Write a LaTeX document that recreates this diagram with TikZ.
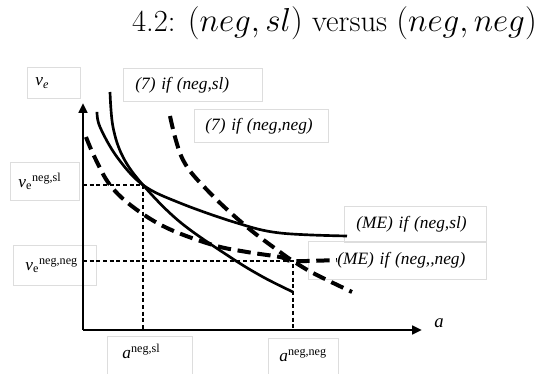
\documentclass[tikz,border=0pt]{standalone}
\usepackage{fontspec}
\usepackage{tikz}
\usetikzlibrary{arrows.meta}
\newfontfamily\lblfont{Liberation Serif}
\definecolor{ink}{HTML}{000000}
\definecolor{boxline}{HTML}{DDDDDD}

\tikzset{
  lblbox/.style={draw=boxline, line width=0.6pt, anchor=north west, align=left,
    inner ysep=0pt, font=\lblfont\fontsize{13}{15}\selectfont},
  curve/.style={ink, line width=2pt},
  dcurve/.style={ink, line width=3pt, dash pattern=on 10pt off 5pt},
  guide/.style={ink, line width=1.1pt, dash pattern=on 3pt off 2pt},
  axis/.style={ink, line width=2.2pt, -{Triangle[length=7.5pt,width=6.5pt]}}
}

\begin{document}
\begin{tikzpicture}[x=0.75pt, y=-0.75pt]
    \useasboundingbox (0,0) rectangle (554,374);
    \node[ink, anchor=base, font=\fontsize{23}{28}\selectfont] (ttl) at (334.5,32)
      {4.2: $(neg, sl)$ versus $(neg, neg)$};

    % label boxes
    \node[lblbox, inner xsep=6pt, text width=27.75pt, minimum height=23.25pt] (vlab) at (27,67)
      {\textit{v}\textsubscript{\itshape e}};
    \node[lblbox, inner xsep=9pt, text width=86.25pt, minimum height=24.75pt] (sevsl) at (123,68)
      {\itshape (7) if (neg,sl)};
    \node[lblbox, inner xsep=8.25pt, text width=84pt, minimum height=24.75pt] (sevng) at (194,109)
      {\itshape (7) if (neg,neg)};
    \node[lblbox, inner xsep=6pt, text width=39.75pt, minimum height=28.5pt] (vsl) at (10,162)
      {\textit{v}\textsubscript{e}\textsuperscript{neg,sl}};
    \node[lblbox, inner xsep=9pt, text width=44.25pt, minimum height=30pt] (vng) at (13,245)
      {\textit{v}\textsubscript{e}\textsuperscript{neg,neg}};
    \node[lblbox, inner xsep=11.25pt, text width=41.25pt, text height=16.5pt, text depth=20pt] (asl) at (107,336)
      {\textit{a}\textsuperscript{neg,sl}};
    \node[lblbox, inner xsep=8.25pt, text width=36pt, text height=17.25pt, text depth=20pt] (ang) at (268,338)
      {\textit{a}\textsuperscript{neg,neg}};
    \node[lblbox, inner xsep=9pt, text width=88.5pt, minimum height=27pt] (mesl) at (344,206)
      {\itshape (ME) if (neg,sl)};
    \node[lblbox, inner xsep=15.75pt, text width=102pt, align=right, minimum height=28.5pt] (meng) at (308,241)
      {\itshape (ME) if (neg,,neg)};
    \node[ink, font=\lblfont\itshape\fontsize{14}{16}\selectfont] (alab) at (439,323) {a};

    % axes
    \coordinate (O) at (83,330);
    \coordinate (ytip) at (83,103);
    \coordinate (xtip) at (422,330);
    \draw[axis] (O) -- (ytip);
    \draw[axis] (O) -- (xtip);

    % equilibria
    \coordinate (A) at (143,185);
    \coordinate (B) at (293,261);
    \draw[guide] (A -| O) -- (A) -- (A |- O);
    \draw[guide] (B -| O) -- (B) -- (B |- O);

    % (7) and (ME), case (neg,sl)
    \draw[curve] plot[smooth, tension=0.6] coordinates {(110,92) (113,127) (123,157) (A)
      (180,222) (230,257) (263,277) (293,292)};
    \draw[curve] plot[smooth, tension=0.6] coordinates {(97,112) (100,127) (117,157) (A)
      (180,203) (237,223) (280,233) (347,236)};

    % (7) and (ME), case (neg,neg)
    \draw[dcurve] plot[smooth, tension=0.6] coordinates {(170,116) (183,160) (210,193)
      (247,227) (280,252) (B) (313,273) (352,292)};
    \draw[dcurve] plot[smooth, tension=0.6] coordinates {(86,137) (95,158) (110,185)
      (133,207) (167,228) (213,245) (247,252) (280,257) (B) (337,260)};
  \end{tikzpicture}
\end{document}
